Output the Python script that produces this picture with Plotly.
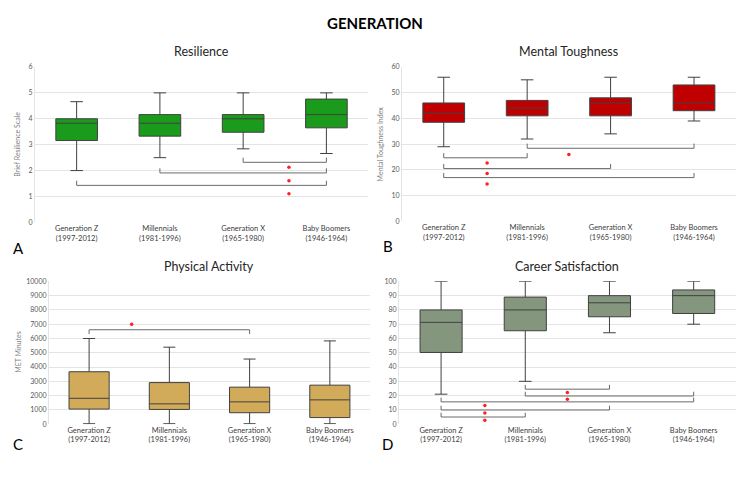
import plotly.graph_objects as go

categories = ["Generation Z<br>(1997-2012)", "Millennials<br>(1981-1996)",
              "Generation X<br>(1965-1980)", "Baby Boomers<br>(1946-1964)"]

# Resilience
res_low = [2.0, 2.5, 2.84, 2.66]
res_q1 = [3.16, 3.33, 3.48, 3.65]
res_med = [3.83, 3.83, 4.0, 4.16]
res_q3 = [4.0, 4.16, 4.16, 4.76]
res_high = [4.66, 5.0, 5.0, 5.0]
res_brackets = [(2, 3, 2.32), (1, 3, 1.91), (0, 3, 1.43)]
res_stars_x = [2.55, 2.55, 2.55]
res_stars_y = [2.13, 1.61, 1.11]

# Mental toughness
mt_low = [29, 32, 34, 39]
mt_q1 = [38.5, 41, 41, 43]
mt_med = [42, 44, 46, 46]
mt_q3 = [46, 47, 48, 53]
mt_high = [56, 55, 56, 56]
mt_brackets = [(1, 3, 28.4), (0, 1, 24.7), (0, 2, 20.5), (0, 3, 17.0)]
mt_stars_x = [1.5, 0.52, 0.52, 0.52]
mt_stars_y = [26.0, 22.7, 18.6, 14.5]

# Physical activity
pa_low = [30, 30, 30, 30]
pa_q1 = [1055, 1030, 800, 460]
pa_med = [1810, 1420, 1560, 1700]
pa_q3 = [3670, 2910, 2590, 2730]
pa_high = [6000, 5390, 4560, 5830]
pa_brackets = [(0, 2, 6610)]
pa_stars_x = [0.53]
pa_stars_y = [7000]

# Career satisfaction
cs_low = [21, 30, 64, 70]
cs_q1 = [50.2, 65.4, 75.2, 77.5]
cs_med = [71.3, 80, 85, 90]
cs_q3 = [80, 89, 90, 94]
cs_high = [100, 100, 100, 100]
cs_brackets = [(1, 2, 24.5), (1, 3, 19.7), (0, 3, 15.6), (0, 2, 9.9), (0, 1, 5.0)]
cs_stars_x = [1.5, 1.5, 0.52, 0.52, 0.52]
cs_stars_y = [22.2, 17.4, 13.1, 7.8, 2.75]

panels = [
    dict(title="Resilience", ytitle="Brief Resilience Scale", color="#1b9b1b",
         low=res_low, q1=res_q1, med=res_med, q3=res_q3, high=res_high,
         br=res_brackets, sx=res_stars_x, sy=res_stars_y, rng=[0, 6], dt=1,
         xd=[0.0467, 0.4907], yd=[0.5508, 0.872], tick_up=True, tx=0.0227),
    dict(title="Mental Toughness", ytitle="Mental Toughness Index", color="#c00000",
         low=mt_low, q1=mt_q1, med=mt_med, q3=mt_q3, high=mt_high,
         br=mt_brackets, sx=mt_stars_x, sy=mt_stars_y, rng=[0, 60], dt=10,
         xd=[0.536, 0.981], yd=[0.553, 0.872], tick_up=True, tx=0.507),
    dict(title="Physical Activity", ytitle="MET Minutes", color="#d2ab5a",
         low=pa_low, q1=pa_q1, med=pa_med, q3=pa_q3, high=pa_high,
         br=pa_brackets, sx=pa_stars_x, sy=pa_stars_y, rng=[0, 10000], dt=1000,
         xd=[0.0653, 0.4933], yd=[0.134, 0.429], tick_up=False, tx=0.024),
    dict(title="Career Satisfaction", ytitle="", color="#84967e",
         low=cs_low, q1=cs_q1, med=cs_med, q3=cs_q3, high=cs_high,
         br=cs_brackets, sx=cs_stars_x, sy=cs_stars_y, rng=[0, 100], dt=10,
         xd=[0.532, 0.981], yd=[0.134, 0.429], tick_up=True, tx=0.51),
]

FONT = "Lato"
fig = go.Figure()
annotations = []
for k, p in enumerate(panels):
    sfx = "" if k == 0 else str(k + 1)
    xa, ya = "x" + sfx, "y" + sfx
    for i in range(4):
        fig.add_trace(go.Box(
            x=[i], q1=[p["q1"][i]], median=[p["med"][i]], q3=[p["q3"][i]],
            lowerfence=[p["low"][i]], upperfence=[p["high"][i]],
            fillcolor=p["color"], line=dict(color="#404040", width=1),
            width=0.5, whiskerwidth=0.3, boxpoints=False,
            xaxis=xa, yaxis=ya, showlegend=False, hoverinfo="skip"))
    span = p["rng"][1] - p["rng"][0]
    h = span * 0.03 * (1 if p["tick_up"] else -1)
    for (i, j, lvl) in p["br"]:
        fig.add_trace(go.Scatter(
            x=[i, i, j, j], y=[lvl + h, lvl, lvl, lvl + h], mode="lines",
            line=dict(color="#6a6a6a", width=1), xaxis=xa, yaxis=ya,
            showlegend=False, hoverinfo="skip"))
    fig.add_trace(go.Scatter(
        x=p["sx"], y=p["sy"], mode="markers",
        marker=dict(color="#ff2020", size=3.5), xaxis=xa, yaxis=ya,
        showlegend=False, hoverinfo="skip"))
    xkey = "xaxis" + sfx
    ykey = "yaxis" + sfx
    fig.layout[xkey] = dict(
        domain=p["xd"], anchor=ya, range=[-0.5, 3.5], tickvals=[0, 1, 2, 3],
        ticktext=categories, showgrid=False, zeroline=False, showline=False,
        tickfont=dict(size=7.5, color="#404040", family=FONT), ticks="")
    fig.layout[ykey] = dict(
        domain=p["yd"], anchor=xa, range=p["rng"], dtick=p["dt"], tickformat="d",
        showgrid=True, gridcolor="#e4e4e4", gridwidth=1, zeroline=False,
        showline=True, linecolor="#e4e4e4", linewidth=1,
        tickfont=dict(size=7, color="#595959", family=FONT), ticks="")
    xm = (p["xd"][0] + p["xd"][1]) / 2
    annotations.append(dict(
        text=p["title"], x=xm, y=p["yd"][1] + 0.012, xref="paper", yref="paper",
        xanchor="center", yanchor="bottom", showarrow=False,
        font=dict(size=12.5, color="#262626", family=FONT)))
    if p["ytitle"]:
        annotations.append(dict(
            text=p["ytitle"], x=p["tx"], y=(p["yd"][0] + p["yd"][1]) / 2,
            xref="paper", yref="paper", xanchor="center", yanchor="middle",
            textangle=-90, showarrow=False,
            font=dict(size=7, color="#7f7f7f", family=FONT)))

letters = [("A", 0.024, 0.498), ("B", 0.517, 0.502), ("C", 0.024, 0.092), ("D", 0.517, 0.092)]
for t, x, y in letters:
    annotations.append(dict(text=t, x=x, y=y, xref="paper", yref="paper",
                            xanchor="center", yanchor="middle", showarrow=False,
                            font=dict(size=15, color="#000000", family=FONT)))

annotations.append(dict(text="<b>GENERATION</b>", x=0.5, y=1 - 18 / 492, xref="paper",
                        yref="paper", xanchor="center", yanchor="middle", showarrow=False,
                        font=dict(size=15, color="#000000", family=FONT)))

fig.update_layout(width=750, height=492, margin=dict(l=0, r=0, t=0, b=0),
                  paper_bgcolor="white", plot_bgcolor="white",
                  annotations=annotations, font=dict(family=FONT))
fig.write_html("out.html")
